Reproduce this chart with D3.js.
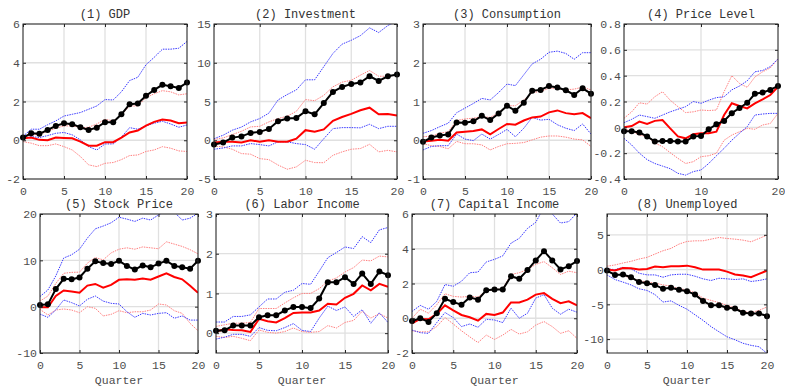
<!DOCTYPE html>
<html>
<head>
<meta charset="utf-8">
<script src="https://cdn.jsdelivr.net/npm/d3@7"></script>
<style>
  body { margin: 0; background: #fff; }
  svg text { font-family: "Liberation Mono", "DejaVu Sans Mono", monospace; }
</style>
</head>
<body>
<svg id="chart" width="785" height="388"></svg>
<script>
"use strict";

var quarters = d3.range(0, 21);

var titles = ["(1) GDP", "(2) Investment", "(3) Consumption", "(4) Price Level",
  "(5) Stock Price", "(6) Labor Income", "(7) Capital Income", "(8) Unemployed"];

var yLimits = [[-2, 6], [-5, 15], [-1, 3], [-0.4, 0.8], [-10, 20], [-0.5, 3], [-2, 6], [-12, 8]];
var yTicks = [[-2, 0, 2, 4, 6], [-5, 0, 5, 10, 15], [-1, 0, 1, 2, 3],
  [-0.4, -0.2, 0, 0.2, 0.4, 0.6, 0.8], [-10, 0, 10, 20], [0, 1, 2, 3], [-2, 0, 2, 4, 6], [-10, -5, 0, 5]];
var xTicks = [[0, 5, 10, 15, 20], [0, 5, 10, 15, 20], [0, 5, 10, 15, 20], [0, 10, 20],
  [0, 5, 10, 15, 20], [0, 5, 10, 15, 20], [0, 5, 10, 15, 20], [0, 5, 10, 15, 20]];

// (1) GDP
var gdpPoint = [0.14, 0.36, 0.33, 0.53, 0.74, 0.88, 0.83, 0.67, 0.53, 0.65, 0.93, 0.93, 1.34, 1.86, 1.9, 2.3, 2.6, 2.86, 2.79, 2.7, 2.98];
var gdpRed = [0.1, 0.14, 0.02, 0.0, 0.14, 0.12, 0.1, -0.07, -0.28, -0.28, -0.1, -0.1, 0.14, 0.4, 0.5, 0.76, 0.95, 1.07, 1.02, 0.88, 0.91];
var gdpBlueHi = [0.2, 0.57, 0.57, 0.8, 1.0, 1.25, 1.34, 1.43, 1.6, 1.77, 2.1, 2.08, 2.5, 3.08, 3.25, 3.9, 4.28, 4.7, 4.7, 4.75, 5.1];
var gdpBlueLo = [0.05, 0.19, 0.14, 0.24, 0.36, 0.4, 0.28, 0.02, -0.33, -0.5, -0.19, -0.19, 0.16, 0.65, 0.57, 0.74, 0.88, 0.98, 0.84, 0.67, 0.79];
var gdpRedHi = [0.2, 0.28, 0.31, 0.45, 0.62, 0.74, 0.74, 0.65, 0.67, 0.84, 1.08, 1.0, 1.3, 1.77, 1.77, 2.2, 2.4, 2.56, 2.5, 2.34, 2.4];
var gdpRedLo = [-0.07, -0.15, -0.28, -0.28, -0.19, -0.33, -0.5, -0.84, -1.27, -1.36, -1.19, -1.15, -1.0, -0.79, -0.76, -0.58, -0.5, -0.33, -0.41, -0.55, -0.58];

// (2) Investment
var invPoint = [-0.56, -0.3, 0.34, 0.5, 0.95, 1.08, 1.46, 2.45, 2.8, 2.88, 3.74, 3.35, 4.8, 6.24, 6.88, 7.27, 7.44, 8.26, 7.66, 8.26, 8.5];
var invRed = [-0.3, -0.2, -0.2, -0.3, 0.0, -0.2, 0.0, -0.2, -0.2, 0.2, 1.3, 1.1, 1.4, 2.5, 3.0, 3.4, 3.87, 4.2, 3.35, 3.4, 3.2];
var invBlueHi = [0.2, 0.65, 1.3, 1.7, 2.37, 2.8, 3.5, 5.2, 5.9, 6.5, 7.8, 7.8, 9.5, 11.2, 12.4, 12.9, 13.5, 14.5, 13.9, 14.8, 15.4];
var invBlueLo = [-1.16, -1.0, -0.73, -0.73, -0.43, -0.56, -0.73, -0.2, -0.2, -0.43, -0.56, -1.16, 0.2, 1.5, 1.63, 1.63, 1.6, 2.06, 1.5, 1.8, 1.8];
var invRedHi = [0.1, 0.3, 0.73, 1.16, 1.72, 1.8, 2.37, 2.8, 3.1, 3.74, 5.25, 5.1, 5.8, 6.9, 7.5, 7.74, 8.4, 9.0, 8.26, 8.26, 8.4];
var invRedLo = [-0.73, -0.86, -1.16, -1.72, -1.8, -2.37, -2.5, -3.2, -3.74, -3.44, -2.58, -2.88, -2.9, -1.94, -1.5, -1.16, -1.07, -0.52, -1.5, -1.3, -1.5];

// (3) Consumption
var conPoint = [-0.04, 0.07, 0.12, 0.15, 0.46, 0.45, 0.49, 0.63, 0.52, 0.69, 0.89, 0.76, 0.97, 1.28, 1.3, 1.4, 1.36, 1.29, 1.17, 1.34, 1.2];
var conRed = [-0.03, -0.01, 0.01, -0.01, 0.2, 0.22, 0.24, 0.28, 0.15, 0.29, 0.42, 0.4, 0.51, 0.59, 0.61, 0.72, 0.77, 0.7, 0.67, 0.7, 0.57];
var conBlueHi = [0.18, 0.25, 0.35, 0.44, 0.71, 0.83, 0.95, 1.08, 1.04, 1.23, 1.45, 1.41, 1.69, 1.97, 2.09, 2.27, 2.3, 2.24, 2.09, 2.26, 2.26];
var conBlueLo = [-0.25, -0.16, -0.14, -0.14, 0.16, 0.03, -0.01, 0.16, 0.03, 0.15, 0.28, 0.09, 0.31, 0.59, 0.52, 0.54, 0.4, 0.31, 0.25, 0.42, 0.16];
var conRedHi = [0.09, 0.11, 0.18, 0.22, 0.51, 0.55, 0.57, 0.61, 0.59, 0.71, 0.89, 0.89, 1.04, 1.23, 1.26, 1.34, 1.34, 1.3, 1.32, 1.37, 1.3];
var conRedLo = [-0.09, -0.14, -0.16, -0.22, -0.03, -0.09, -0.09, -0.12, -0.25, -0.16, -0.09, -0.08, -0.06, 0.01, 0.08, 0.11, 0.11, 0.08, 0.03, 0.01, -0.16];

// (4) Price Level
var prcPoint = [-0.03, -0.03, -0.04, -0.07, -0.11, -0.106, -0.106, -0.11, -0.11, -0.07, -0.067, -0.015, 0.023, 0.05, 0.11, 0.15, 0.19, 0.26, 0.27, 0.29, 0.32];
var prcRed = [0.0, 0.01, 0.044, 0.026, 0.05, 0.057, -0.008, -0.07, -0.085, -0.054, -0.046, -0.046, -0.034, 0.095, 0.186, 0.165, 0.147, 0.186, 0.217, 0.25, 0.315];
var prcBlueHi = [0.036, 0.062, 0.095, 0.083, 0.07, 0.095, 0.12, 0.14, 0.16, 0.2, 0.186, 0.21, 0.23, 0.237, 0.29, 0.32, 0.36, 0.43, 0.44, 0.47, 0.53];
var prcBlueLo = [-0.085, -0.137, -0.2, -0.25, -0.28, -0.3, -0.32, -0.356, -0.37, -0.343, -0.33, -0.28, -0.22, -0.163, -0.1, -0.046, 0.005, 0.095, 0.103, 0.108, 0.108];
var prcRedHi = [0.07, 0.12, 0.19, 0.18, 0.237, 0.276, 0.21, 0.16, 0.114, 0.12, 0.134, 0.13, 0.134, 0.276, 0.4, 0.34, 0.31, 0.39, 0.43, 0.46, 0.53];
var prcRedLo = [-0.01, -0.03, -0.06, -0.072, -0.12, -0.15, -0.196, -0.24, -0.28, -0.266, -0.227, -0.22, -0.2, -0.1, -0.06, -0.034, -0.008, -0.015, 0.018, 0.03, 0.108];

// (5) Stock Price
var stkPoint = [0.36, 0.5, 3.8, 6.0, 5.9, 6.3, 8.2, 9.8, 9.4, 9.2, 9.9, 8.8, 8.0, 8.9, 8.5, 9.3, 9.9, 8.8, 8.5, 8.2, 9.9];
var stkRed = [-0.15, -0.15, 2.3, 3.5, 3.25, 3.0, 4.55, 4.9, 4.1, 4.7, 5.8, 5.9, 5.8, 6.1, 5.8, 6.5, 7.2, 6.4, 5.9, 4.5, 3.0];
var stkBlueHi = [2.2, 3.6, 6.65, 10.5, 11.2, 12.4, 14.8, 16.8, 17.4, 18.1, 19.3, 18.9, 18.4, 19.1, 18.7, 19.8, 20.8, 20.4, 18.7, 19.1, 20.2];
var stkBlueLo = [-1.6, -2.3, -0.7, 1.45, 0.87, 0.15, 1.6, 2.3, 1.2, 0.72, 0.58, -1.1, -2.3, -1.45, -1.8, -1.45, -1.3, -2.5, -2.0, -2.9, -2.9];
var stkRedHi = [1.2, 2.3, 5.0, 7.2, 7.4, 7.45, 9.4, 10.6, 10.1, 11.6, 12.4, 12.7, 12.4, 12.9, 12.7, 12.5, 14.0, 13.5, 13.0, 12.3, 11.4];
var stkRedLo = [-0.58, -1.8, -0.72, -0.5, -0.72, -1.3, 0.0, -0.36, -2.0, -1.66, -0.87, -1.3, -1.1, -1.1, -0.72, 0.58, 0.36, -0.87, -1.45, -3.6, -5.2];

// (6) Labor Income
var labPoint = [0.06, 0.07, 0.19, 0.19, 0.19, 0.4, 0.45, 0.45, 0.57, 0.66, 0.66, 0.63, 0.87, 1.28, 1.28, 1.41, 1.24, 1.5, 1.24, 1.55, 1.46];
var labRed = [0.04, 0.1, 0.08, 0.07, 0.03, 0.36, 0.3, 0.27, 0.38, 0.51, 0.52, 0.52, 0.57, 0.74, 0.72, 0.89, 0.99, 1.2, 1.08, 1.24, 1.17];
var labBlueHi = [0.28, 0.28, 0.42, 0.42, 0.46, 0.66, 0.86, 0.86, 1.03, 1.08, 1.25, 1.23, 1.56, 1.9, 2.03, 2.17, 2.13, 2.43, 2.28, 2.6, 2.66];
var labBlueLo = [-0.15, -0.1, -0.03, -0.03, -0.08, 0.14, 0.07, 0.06, 0.14, 0.24, 0.07, 0.04, 0.38, 0.68, 0.57, 0.66, 0.42, 0.59, 0.25, 0.51, 0.27];
var labRedHi = [0.17, 0.21, 0.25, 0.25, 0.27, 0.62, 0.62, 0.62, 0.76, 0.89, 1.0, 1.0, 1.12, 1.31, 1.39, 1.54, 1.65, 1.84, 1.82, 1.94, 1.92];
var labRedLo = [-0.08, -0.11, -0.08, -0.13, -0.19, 0.08, 0.02, 0.0, 0.04, 0.13, 0.04, 0.02, 0.04, 0.19, 0.13, 0.27, 0.32, 0.55, 0.38, 0.49, 0.38];

// (7) Capital Income
var capPoint = [-0.16, 0.0, -0.21, 0.29, 1.12, 0.93, 0.78, 1.2, 1.07, 1.61, 1.65, 1.65, 2.42, 2.27, 2.77, 3.33, 3.86, 3.33, 2.81, 3.0, 3.29];
var capRed = [-0.29, -0.04, -0.06, 0.25, 0.74, 0.45, 0.19, 0.06, -0.14, 0.25, 0.19, 0.33, 0.91, 0.91, 1.07, 1.36, 1.45, 1.12, 0.87, 0.97, 0.74];
var capBlueHi = [0.39, 0.74, 0.52, 0.97, 1.94, 1.84, 2.13, 2.62, 2.66, 3.24, 3.39, 3.59, 4.32, 4.6, 5.17, 5.52, 6.4, 6.0, 5.48, 5.56, 6.06];
var capBlueLo = [-0.68, -0.83, -0.87, -0.25, 0.33, 0.04, -0.48, -0.33, -0.52, -0.06, -0.1, -0.25, 0.58, 0.0, 0.29, 1.16, 1.36, 0.58, 0.23, 0.52, 0.35];
var capRedHi = [0.0, 0.52, 0.29, 0.78, 1.41, 1.26, 1.22, 1.26, 1.22, 1.59, 1.65, 1.69, 2.52, 2.62, 2.81, 3.1, 3.26, 2.91, 2.52, 2.71, 2.62];
var capRedLo = [-0.72, -0.78, -0.78, -0.48, 0.04, -0.33, -0.72, -1.07, -1.4, -0.97, -1.22, -0.97, -0.64, -0.91, -0.78, -0.39, -0.19, -0.48, -0.87, -0.72, -1.16];

// (8) Unemployed
var unePoint = [-0.14, -0.76, -0.71, -1.1, -1.8, -1.95, -2.2, -2.76, -2.6, -2.9, -3.1, -3.6, -4.5, -5.14, -5.14, -5.5, -5.6, -6.2, -6.3, -6.3, -6.7];
var uneRed = [0.0, -0.14, 0.24, 0.19, 0.0, 0.1, 0.43, 0.33, 0.48, 0.48, 0.57, 0.33, 0.0, 0.0, 0.0, -0.29, -0.71, -0.86, -1.1, -0.62, -0.14];
var uneBlueHi = [0.1, 0.0, 0.33, 0.1, -0.52, -0.76, -0.76, -1.1, -0.76, -0.67, -0.67, -0.95, -1.33, -1.57, -1.24, -1.33, -1.43, -1.33, -1.71, -1.57, -1.33];
var uneBlueLo = [-0.76, -1.43, -1.8, -2.2, -2.76, -3.0, -3.6, -4.67, -4.5, -5.14, -5.7, -6.5, -7.3, -8.2, -8.95, -9.67, -10.1, -10.6, -10.9, -11.1, -12.05];
var uneRedHi = [0.48, 0.67, 0.95, 1.19, 1.52, 1.76, 2.24, 2.71, 3.05, 3.67, 4.05, 4.14, 4.14, 4.38, 4.62, 4.48, 4.38, 4.24, 4.0, 4.48, 4.95];
var uneRedLo = [-0.29, -0.62, -0.86, -1.24, -1.57, -1.8, -1.95, -2.2, -2.38, -2.76, -2.9, -3.33, -4.1, -4.43, -4.76, -5.14, -5.5, -6.0, -6.2, -5.86, -5.38];

var pointSeries = [gdpPoint, invPoint, conPoint, prcPoint, stkPoint, labPoint, capPoint, unePoint];
var redSeries = [gdpRed, invRed, conRed, prcRed, stkRed, labRed, capRed, uneRed];
var blueHiSeries = [gdpBlueHi, invBlueHi, conBlueHi, prcBlueHi, stkBlueHi, labBlueHi, capBlueHi, uneBlueHi];
var blueLoSeries = [gdpBlueLo, invBlueLo, conBlueLo, prcBlueLo, stkBlueLo, labBlueLo, capBlueLo, uneBlueLo];
var redHiSeries = [gdpRedHi, invRedHi, conRedHi, prcRedHi, stkRedHi, labRedHi, capRedHi, uneRedHi];
var redLoSeries = [gdpRedLo, invRedLo, conRedLo, prcRedLo, stkRedLo, labRedLo, capRedLo, uneRedLo];

// panel boxes in pixels: left, top, right, bottom
var boxes = [
  [23, 24, 187, 179], [214, 24, 397, 179], [423, 24, 591, 179], [624, 24, 778, 179],
  [40, 214, 198, 353], [216, 214, 388, 353], [412, 214, 577, 353], [607, 214, 767, 353]
];

var svg = d3.select("#chart");

function fmt(v) {
  return v === 0 ? "0" : String(v);
}

function styleTicks(a) {
  a.select(".domain").remove();
  a.selectAll(".tick line").attr("stroke", "#262626");
  a.selectAll(".tick text").attr("fill", "#4d4d4d").style("font-size", "11.5px");
}

titles.forEach(function (title, i) {
  var b = boxes[i];
  var w = b[2] - b[0], h = b[3] - b[1];
  var x = d3.scaleLinear().domain([0, 20]).range([0, w]);
  var y = d3.scaleLinear().domain(yLimits[i]).range([h, 0]);

  var g = svg.append("g").attr("transform", "translate(" + b[0] + "," + b[1] + ")");

  g.append("clipPath").attr("id", "clip" + i)
    .append("rect").attr("x", 0).attr("y", 0).attr("width", w).attr("height", h);

  // grid
  g.append("g").selectAll("line").data(xTicks[i]).join("line")
    .attr("x1", function (d) { return x(d); }).attr("x2", function (d) { return x(d); })
    .attr("y1", 0).attr("y2", h)
    .attr("stroke", "#e0e0e0").attr("stroke-width", 1.3);
  g.append("g").selectAll("line").data(yTicks[i]).join("line")
    .attr("x1", 0).attr("x2", w)
    .attr("y1", function (d) { return y(d); }).attr("y2", function (d) { return y(d); })
    .attr("stroke", "#e0e0e0").attr("stroke-width", 1.3);

  var line = d3.line()
    .x(function (d, k) { return x(quarters[k]); })
    .y(function (d) { return y(d); });

  var plot = g.append("g").attr("clip-path", "url(#clip" + i + ")");

  [redHiSeries[i], redLoSeries[i]].forEach(function (s) {
    plot.append("path").datum(s).attr("d", line)
      .attr("fill", "none").attr("stroke", "#ff8080").attr("stroke-width", 1)
      .attr("stroke-dasharray", "1.5,1");
  });
  [blueHiSeries[i], blueLoSeries[i]].forEach(function (s) {
    plot.append("path").datum(s).attr("d", line)
      .attr("fill", "none").attr("stroke", "#3a3aff").attr("stroke-width", 1)
      .attr("stroke-dasharray", "1.5,1");
  });
  plot.append("path").datum(redSeries[i]).attr("d", line)
    .attr("fill", "none").attr("stroke", "#ff0000").attr("stroke-width", 2);
  plot.append("path").datum(pointSeries[i]).attr("d", line)
    .attr("fill", "none").attr("stroke", "#000").attr("stroke-width", 2);
  g.append("g").selectAll("circle").data(pointSeries[i]).join("circle")
    .attr("cx", function (d, k) { return x(quarters[k]); })
    .attr("cy", function (d) { return y(d); })
    .attr("r", 3).attr("fill", "#000");

  // axes, MATLAB style: inward ticks on all four sides of the box
  var ax = g.append("g").attr("transform", "translate(0," + h + ")")
    .call(d3.axisBottom(x).tickValues(xTicks[i]).tickSize(-3).tickPadding(8).tickFormat(fmt));
  var ay = g.append("g")
    .call(d3.axisLeft(y).tickValues(yTicks[i]).tickSize(-3).tickPadding(3).tickFormat(fmt));
  var at = g.append("g")
    .call(d3.axisTop(x).tickValues(xTicks[i]).tickSize(-3).tickFormat(""));
  var ar = g.append("g").attr("transform", "translate(" + w + ",0)")
    .call(d3.axisRight(y).tickValues(yTicks[i]).tickSize(-3).tickFormat(""));
  [ax, ay, at, ar].forEach(styleTicks);

  g.append("rect").attr("x", 0).attr("y", 0).attr("width", w).attr("height", h)
    .attr("fill", "none").attr("stroke", "#262626").attr("stroke-width", 1);

  g.append("text").attr("x", w / 2).attr("y", -6)
    .attr("text-anchor", "middle").attr("fill", "#333").style("font-size", "12px")
    .text(title);

  if (i >= 4) {
    g.append("text").attr("x", w / 2).attr("y", h + 31)
      .attr("text-anchor", "middle").attr("fill", "#4d4d4d").style("font-size", "11.5px")
      .text("Quarter");
  }
});
</script>
</body>
</html>
